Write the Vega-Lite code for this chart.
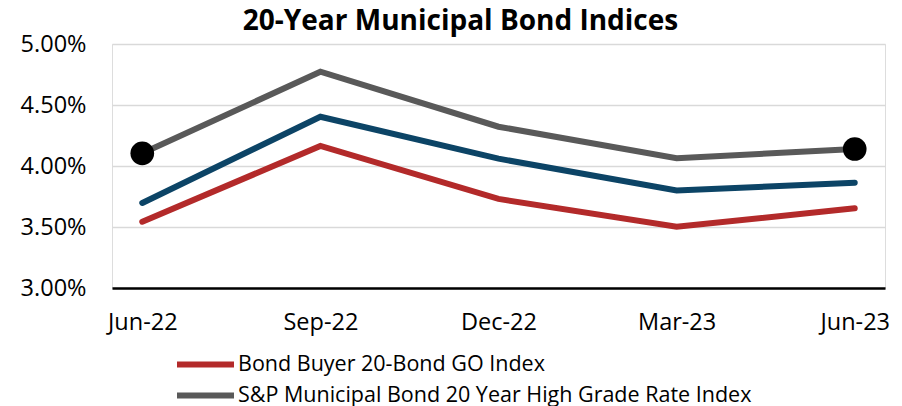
{
  "$schema": "https://vega.github.io/schema/vega-lite/v6.json",
  "width": 773,
  "height": 244,
  "autosize": {"type": "none"},
  "padding": {"left": 112, "top": 44, "right": 17, "bottom": 118},
  "background": "white",
  "title": {
    "text": "20-Year Municipal Bond Indices",
    "font": "Open Sans",
    "fontSize": 28,
    "fontWeight": "bold",
    "color": "#000000",
    "anchor": "middle",
    "dx": -38,
    "dy": 14,
    "offset": 10
  },
  "data": {
    "values": [
      {"series": "Bond Buyer 20-Bond GO Index", "date": "Jun-22", "value": 0.03543},
      {"series": "Bond Buyer 20-Bond GO Index", "date": "Sep-22", "value": 0.04164},
      {"series": "Bond Buyer 20-Bond GO Index", "date": "Dec-22", "value": 0.0373},
      {"series": "Bond Buyer 20-Bond GO Index", "date": "Mar-23", "value": 0.03502},
      {"series": "Bond Buyer 20-Bond GO Index", "date": "Jun-23", "value": 0.03653},
      {"series": "S&P Municipal Bond 20 Year High Grade Rate Index", "date": "Jun-22", "value": 0.04104},
      {"series": "S&P Municipal Bond 20 Year High Grade Rate Index", "date": "Sep-22", "value": 0.04773},
      {"series": "S&P Municipal Bond 20 Year High Grade Rate Index", "date": "Dec-22", "value": 0.04322},
      {"series": "S&P Municipal Bond 20 Year High Grade Rate Index", "date": "Mar-23", "value": 0.04063},
      {"series": "S&P Municipal Bond 20 Year High Grade Rate Index", "date": "Jun-23", "value": 0.04139},
      {"series": "Bond Buyer 25-Bond Revenue Index", "date": "Jun-22", "value": 0.03697},
      {"series": "Bond Buyer 25-Bond Revenue Index", "date": "Sep-22", "value": 0.04404},
      {"series": "Bond Buyer 25-Bond Revenue Index", "date": "Dec-22", "value": 0.0406},
      {"series": "Bond Buyer 25-Bond Revenue Index", "date": "Mar-23", "value": 0.038},
      {"series": "Bond Buyer 25-Bond Revenue Index", "date": "Jun-23", "value": 0.03863}
    ]
  },
  "encoding": {
    "x": {
      "field": "date",
      "type": "ordinal",
      "sort": ["Jun-22", "Sep-22", "Dec-22", "Mar-23", "Jun-23"],
      "scale": {"type": "point", "padding": 0.17},
      "axis": {
        "title": null,
        "labelAngle": 0,
        "labelFont": "Open Sans",
        "labelFontSize": 23.5,
        "labelColor": "#000000",
        "labelPadding": 22,
        "ticks": false,
        "grid": false,
        "domain": true,
        "domainColor": "#000000",
        "domainWidth": 2.5
      }
    },
    "y": {
      "field": "value",
      "type": "quantitative",
      "scale": {"domain": [0.03, 0.05], "nice": false, "zero": false},
      "axis": {
        "title": null,
        "values": [0.03, 0.035, 0.04, 0.045, 0.05],
        "format": ".2%",
        "labelFont": "Open Sans",
        "labelFontSize": 23.5,
        "labelColor": "#000000",
        "labelPadding": 26,
        "ticks": false,
        "domain": false,
        "grid": true,
        "gridColor": "#d9d9d9",
        "gridWidth": 1.5
      }
    }
  },
  "layer": [
    {
      "mark": {"type": "line", "strokeWidth": 6, "strokeCap": "round", "strokeJoin": "miter"},
      "encoding": {
        "color": {
          "field": "series",
          "type": "nominal",
          "scale": {
            "domain": ["Bond Buyer 20-Bond GO Index", "S&P Municipal Bond 20 Year High Grade Rate Index", "Bond Buyer 25-Bond Revenue Index"],
            "range": ["#b32a2a", "#595959", "#0c4466"]
          },
          "legend": {
            "orient": "none",
            "legendX": 81,
            "legendY": 308,
            "direction": "vertical",
            "title": null,
            "symbolType": "M-3,0H3",
            "symbolStrokeWidth": 6,
            "symbolSize": 361,
            "labelFont": "Open Sans",
            "labelFontSize": 21.5,
            "labelColor": "#000000",
            "labelOffset": 20,
            "rowPadding": 6,
            "padding": 0,
            "labelLimit": 700
          }
        }
      }
    },
    {
      "transform": [
        {"filter": "datum.series == 'S&P Municipal Bond 20 Year High Grade Rate Index' && (datum.date == 'Jun-22' || datum.date == 'Jun-23')"}
      ],
      "mark": {"type": "circle", "size": 560, "color": "#000000", "opacity": 1}
    }
  ]
}
